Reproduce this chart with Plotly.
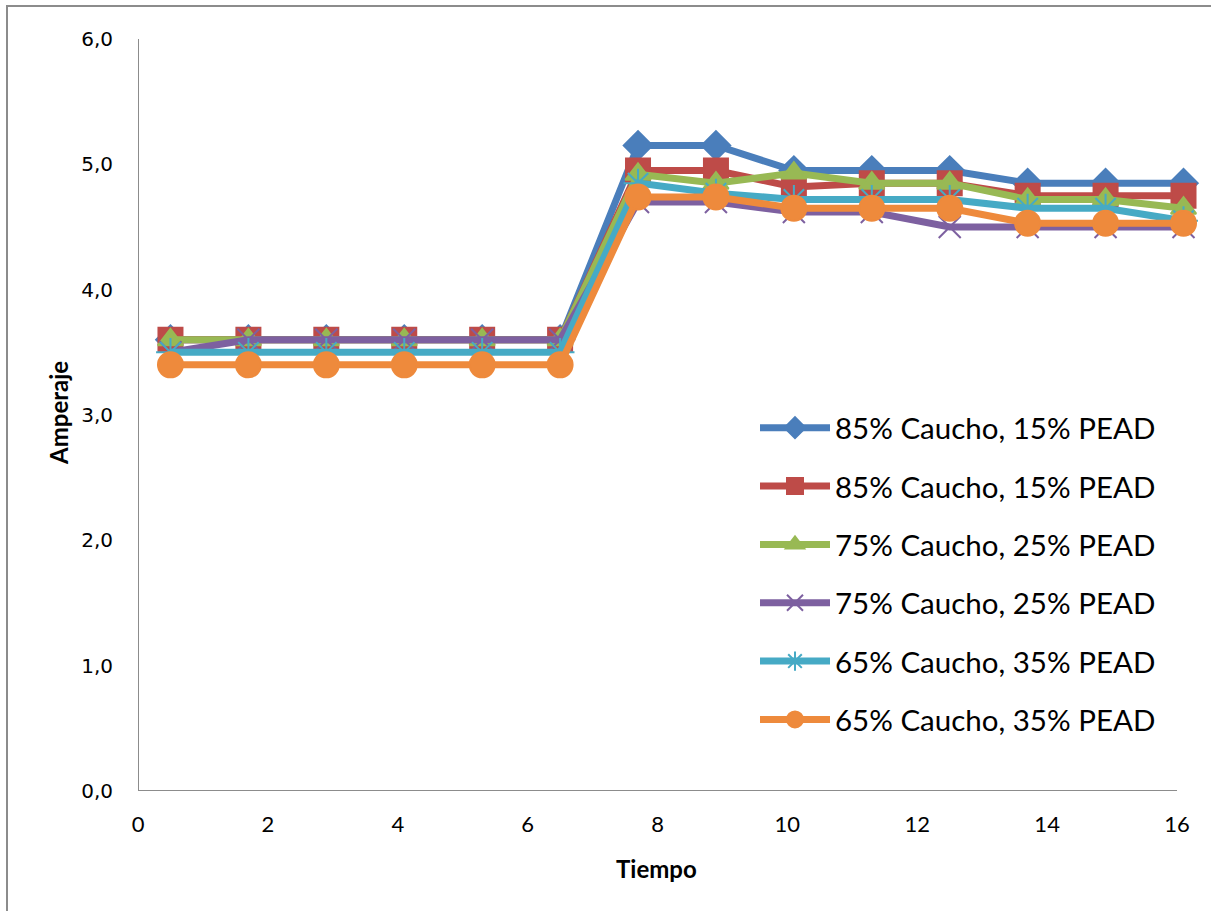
import plotly.graph_objects as go

# Tiempo (x) values shared by all series
tiempo = [0.5, 1.7, 2.9, 4.1, 5.3, 6.5, 7.7, 8.9, 10.1, 11.3, 12.5, 13.7, 14.9, 16.1]

# Amperaje readings per blend
serie_85a = [3.6, 3.6, 3.6, 3.6, 3.6, 3.6, 5.15, 5.15, 4.95, 4.95, 4.95, 4.85, 4.85, 4.85]
serie_85b = [3.6, 3.6, 3.6, 3.6, 3.6, 3.6, 4.95, 4.95, 4.82, 4.85, 4.85, 4.75, 4.75, 4.75]
serie_75a = [3.6, 3.6, 3.6, 3.6, 3.6, 3.6, 4.92, 4.85, 4.93, 4.85, 4.85, 4.72, 4.72, 4.65]
serie_75b = [3.5, 3.6, 3.6, 3.6, 3.6, 3.6, 4.7, 4.7, 4.62, 4.62, 4.5, 4.5, 4.5, 4.5]
serie_65a = [3.5, 3.5, 3.5, 3.5, 3.5, 3.5, 4.85, 4.77, 4.72, 4.72, 4.72, 4.65, 4.65, 4.55]
serie_65b = [3.4, 3.4, 3.4, 3.4, 3.4, 3.4, 4.74, 4.74, 4.65, 4.65, 4.65, 4.53, 4.53, 4.53]

nombres = [
    "85% Caucho, 15% PEAD",
    "85% Caucho, 15% PEAD",
    "75% Caucho, 25% PEAD",
    "75% Caucho, 25% PEAD",
    "65% Caucho, 35% PEAD",
    "65% Caucho, 35% PEAD",
]

y_ticks = [0, 1, 2, 3, 4, 5, 6]
y_tick_text = ["0,0", "1,0", "2,0", "3,0", "4,0", "5,0", "6,0"]
x_ticks = [0, 2, 4, 6, 8, 10, 12, 14, 16]

series = [serie_85a, serie_85b, serie_75a, serie_75b, serie_65a, serie_65b]
colores = ["#4A7EBB", "#BE4B48", "#98B954", "#7D60A0", "#46AAC5", "#EE8A3C"]
simbolos = ["diamond", "square", "triangle-up", "x-thin-open", "asterisk-open", "circle"]
tamanos = [22, 24, 22, 22, 24, 25]

fig = go.Figure()
for i, (ys, nombre, color, simbolo, tam) in enumerate(zip(series, nombres, colores, simbolos, tamanos)):
    fig.add_trace(go.Scatter(
        x=tiempo, y=ys, name=nombre, mode="lines+markers",
        legendgroup=f"g{i}",
        line=dict(color=color, width=7),
        marker=dict(symbol=simbolo, size=tam, color=color,
                    line=dict(color=color, width=2)),
        cliponaxis=False,
    ))

# axis lines
fig.add_shape(type="line", xref="x", yref="y", x0=0, x1=16, y0=0, y1=0,
              line=dict(color="#8C8C8C", width=2))
fig.add_shape(type="line", xref="x", yref="y", x0=0, x1=0, y0=0, y1=6,
              line=dict(color="#8C8C8C", width=2))

# chart-area border
fig.add_shape(type="rect", xref="paper", yref="paper",
              x0=(7 - 138) / 1052, x1=(1230 - 138) / 1052,
              y0=-(930 - 791) / 752, y1=1 + (39 - 6) / 752,
              line=dict(color="#8C8C8C", width=2), fillcolor="rgba(0,0,0,0)",
              layer="below")

fig.add_annotation(text="<b>Tiempo</b>", xref="paper", yref="paper",
                   x=(656 - 138) / 1052, y=-(868 - 791) / 752,
                   showarrow=False, xanchor="center", yanchor="middle",
                   font=dict(family="Lato", size=24, color="#000"))
fig.add_annotation(text="<b>Amperaje</b>", xref="paper", yref="paper",
                   x=(58 - 138) / 1052, y=(791 - 413) / 752, textangle=-90,
                   showarrow=False, xanchor="center", yanchor="middle",
                   font=dict(family="Lato", size=24, color="#000"))

fig.update_layout(
    width=1211, height=911,
    margin=dict(l=138, r=21, t=39, b=120),
    paper_bgcolor="white", plot_bgcolor="white",
    showlegend=True,
    legend=dict(x=(755 - 138) / 1052, y=(791 - 402) / 752, xanchor="left", yanchor="top",
                font=dict(family="Lato", size=29.5, color="#000"),
                itemwidth=70, tracegroupgap=17, bgcolor="rgba(0,0,0,0)"),
    xaxis=dict(range=[0, 16.2], tickvals=x_ticks, showgrid=False, zeroline=False,
               showline=False, ticks="", ticklabelstandoff=18,
               tickfont=dict(family="Lato", size=22, color="#000")),
    yaxis=dict(range=[0, 6], tickvals=y_ticks, ticktext=y_tick_text, showgrid=False,
               zeroline=False, showline=False, ticks="", ticklabelstandoff=24,
               tickfont=dict(family="DejaVu Sans", size=20, color="#000")),
)

fig.write_html("out.html")
